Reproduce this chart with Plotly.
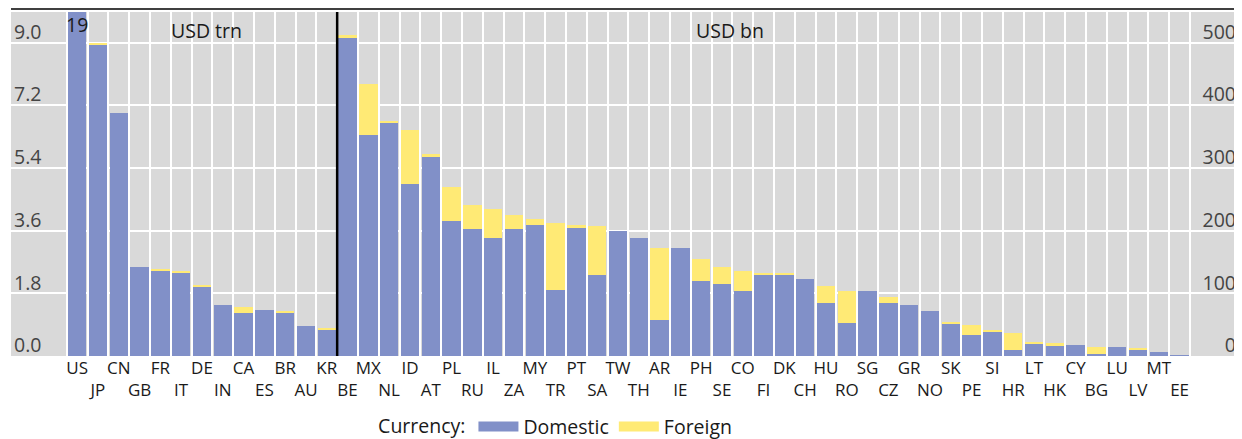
import plotly.graph_objects as go

countries_trn = ["US", "JP", "CN", "GB", "FR", "IT", "DE", "IN", "CA", "ES", "BR", "AU", "KR"]
domestic_trn = [19.0, 8.95, 6.98, 2.55, 2.45, 2.41, 2.0, 1.46, 1.23, 1.33, 1.25, 0.85, 0.76]
foreign_trn = [0.0, 0.04, 0.0, 0.0, 0.06, 0.02, 0.05, 0.0, 0.17, 0.0, 0.05, 0.0, 0.02]

countries_bn = ["BE", "MX", "NL", "ID", "AT", "PL", "RU", "IL", "ZA", "MY", "TR", "PT", "SA", "TW",
                "TH", "AR", "IE", "PH", "SE", "CO", "FI", "DK", "CH", "HU", "RO", "SG", "CZ", "GR",
                "NO", "SK", "PE", "SI", "HR", "LT", "HK", "CY", "BG", "LU", "LV", "MT", "EE"]
domestic_bn = [507, 353, 373, 275, 319, 215, 203, 189, 203, 209.5, 106, 205, 130, 200,
               188, 58, 172, 120, 115.5, 104, 130, 130, 123, 85, 52, 103, 85, 82,
               72.5, 52, 33, 39, 9, 20, 17, 18, 2.5, 15, 10.5, 7, 1.5]
foreign_bn = [5, 81, 1, 86, 3, 54, 38, 45, 22, 8.5, 105.5, 4.5, 78, 0,
              0, 115, 0, 35, 26, 32, 3, 3, 0, 26, 52, 0, 8.5, 0,
              0, 3, 16, 3, 27.5, 3, 3, 0, 12.5, 0, 1.5, 0, 0]

trn_ticks = [0.0, 1.8, 3.6, 5.4, 7.2, 9.0]
bn_ticks = [0, 100, 200, 300, 400, 500]
us_label = "19"

BLUE = "#8190C8"
YELLOW = "#FFEA75"
FONT = "Open Sans"
TXT = "#1a1a1a"

all_countries = countries_trn + countries_bn
tick_text = [c if i % 2 == 0 else "<br>" + c for i, c in enumerate(all_countries)]

top_trn = 9.88
top_bn = top_trn * bn_ticks[-1] / trn_ticks[-1]

fig = go.Figure()
fig.add_trace(go.Bar(x=countries_trn, y=domestic_trn, marker_color=BLUE, name="Domestic",
                     showlegend=False, yaxis="y", marker_line_width=0))
fig.add_trace(go.Bar(x=countries_trn, y=foreign_trn, marker_color=YELLOW, name="Foreign",
                     showlegend=False, yaxis="y", marker_line_width=0))
fig.add_trace(go.Bar(x=countries_bn, y=domestic_bn, marker_color=BLUE, name="Domestic",
                     showlegend=False, yaxis="y2", marker_line_width=0))
fig.add_trace(go.Bar(x=countries_bn, y=foreign_bn, marker_color=YELLOW, name="Foreign",
                     showlegend=False, yaxis="y2", marker_line_width=0))
# legend entries
fig.add_trace(go.Scatter(x=[None], y=[None], mode="lines", line=dict(color=BLUE, width=15),
                         name="Domestic"))
fig.add_trace(go.Scatter(x=[None], y=[None], mode="lines", line=dict(color=YELLOW, width=15),
                         name="Foreign"))

n_left = len(countries_trn)
n_all = len(all_countries)

# page body has an 8px margin: figure is sized so that it fills the window
fig.update_layout(
    width=1234, height=431,
    margin=dict(l=3, r=0, t=4, b=83, autoexpand=False),
    paper_bgcolor="white",
    plot_bgcolor="#D9D9D9",
    barmode="stack",
    bargap=0.12,
    font=dict(family=FONT, size=19, color=TXT),
    xaxis=dict(
        type="category",
        categoryorder="array", categoryarray=all_countries,
        tickvals=all_countries, ticktext=tick_text,
        tickson="boundaries", tickangle=0,
        showgrid=True, gridcolor="white", gridwidth=2,
        ticks="", range=[-3.18, n_all - 0.5 + 2.5],
        zeroline=False, showline=False, automargin=False,
        tickfont=dict(size=17),
    ),
    yaxis=dict(
        range=[0, top_trn], tickvals=trn_ticks,
        ticktext=[f"{v:.1f}" for v in trn_ticks],
        ticklabelposition="inside top", automargin=False,
        ticklabelshift=3, ticklabeloverflow="allow",
        showgrid=True, gridcolor="white", gridwidth=2,
        zeroline=False, ticks="", showline=False,
        tickfont=dict(size=19.5),
    ),
    yaxis2=dict(
        range=[0, top_bn], tickvals=bn_ticks,
        ticktext=[str(v) for v in bn_ticks],
        overlaying="y", side="right", automargin=False,
        ticklabelposition="inside top", ticklabelshift=3, ticklabelstandoff=3,
        ticklabeloverflow="allow",
        showgrid=False, zeroline=False, ticks="", showline=False,
        tickfont=dict(size=19.5),
    ),
    legend=dict(
        orientation="h", x=0.2966, xanchor="left", y=-0.149, yanchor="top",
        traceorder="normal",
        title=dict(text="Currency:", side="left", font=dict(size=19.5)),
        font=dict(size=19.5), itemwidth=40, bgcolor="rgba(0,0,0,0)",
    ),
    showlegend=True,
)

# separator between the two panels
fig.add_shape(type="line", xref="x", yref="paper", x0=n_left - 0.5, x1=n_left - 0.5,
              y0=0, y1=1, line=dict(color="black", width=2.5), layer="above")
# top border line
fig.add_shape(type="line", xref="paper", yref="paper", x0=0, x1=1, y0=1.009, y1=1.009,
              line=dict(color="black", width=1.5))

fig.add_annotation(x=countries_trn[0], y=1, xref="x", yref="paper", text=us_label,
                   showarrow=False, xanchor="center", yanchor="top", yshift=3,
                   font=dict(size=19.5, color=TXT))
fig.add_annotation(x=0.1592, y=0.945, xref="paper", yref="paper", text="USD trn",
                   showarrow=False, xanchor="center", yanchor="middle", font=dict(size=19.5))
fig.add_annotation(x=0.584, y=0.945, xref="paper", yref="paper", text="USD bn",
                   showarrow=False, xanchor="center", yanchor="middle", font=dict(size=19.5))

fig.write_html("out.html")
